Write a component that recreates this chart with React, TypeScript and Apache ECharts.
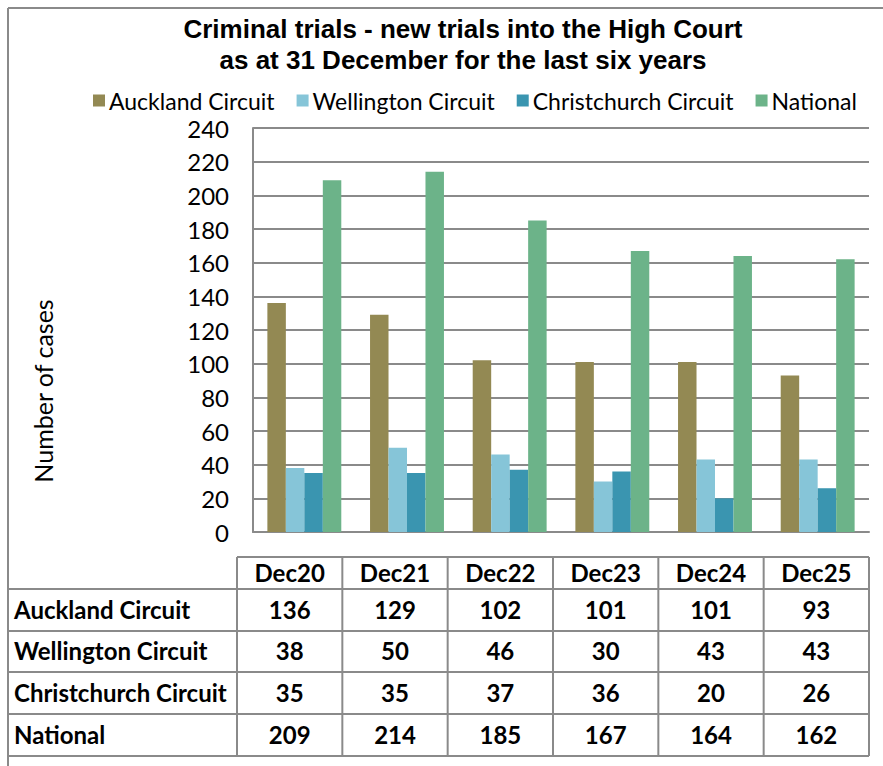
import React, { useEffect, useRef } from "react";
import * as echarts from "echarts";

const categories = ["Dec20", "Dec21", "Dec22", "Dec23", "Dec24", "Dec25"];
const seriesNames = ["Auckland Circuit", "Wellington Circuit", "Christchurch Circuit", "National"];
const auckland = [136, 129, 102, 101, 101, 93];
const wellington = [38, 50, 46, 30, 43, 43];
const christchurch = [35, 35, 37, 36, 20, 26];
const national = [209, 214, 185, 167, 164, 162];
const colors = ["#938953", "#86C5D8", "#3A95B0", "#6CB389"];
const yTicks = { min: 0, max: 240, interval: 20 };

const W = 883;
const H = 766;
const LINE = "#8a8a8a";
const FONT = "Lato";

export default function App() {
  const ref = useRef<HTMLDivElement>(null);
  useEffect(() => {
    if (!ref.current) return;
    const chart = echarts.init(ref.current, null, { renderer: "svg" });
    const values = [auckland, wellington, christchurch, national];

    const tLeft = 237;
    const tRight = 869;
    const colW = (tRight - tLeft) / categories.length;
    const rowYs = [557, 589, 631, 672, 714, 756];
    const graphics: any[] = [];
    const line = (x1: number, y1: number, x2: number, y2: number) => ({
      type: "line",
      shape: { x1, y1, x2, y2 },
      style: { stroke: LINE, lineWidth: 2 },
      silent: true,
    });
    graphics.push(line(8, 8, W, 8));
    graphics.push(line(8, 8, 8, H));
    graphics.push(line(tLeft, rowYs[0], tRight, rowYs[0]));
    for (let i = 1; i < rowYs.length; i++) graphics.push(line(8, rowYs[i], tRight, rowYs[i]));
    for (let c = 0; c <= categories.length; c++) {
      const x = tLeft + c * colW;
      graphics.push(line(x, rowYs[0], x, rowYs[rowYs.length - 1]));
    }
    const cellFont = `bold 24px ${FONT}`;
    categories.forEach((cat, c) => {
      graphics.push({
        type: "text",
        x: tLeft + (c + 0.5) * colW,
        y: (rowYs[0] + rowYs[1]) / 2 - 1,
        style: { text: cat, font: cellFont, fill: "#000", align: "center", verticalAlign: "middle" },
      });
    });
    seriesNames.forEach((name, r) => {
      const yc = (rowYs[r + 1] + rowYs[r + 2]) / 2 - 1;
      graphics.push({
        type: "text",
        x: 14,
        y: yc,
        style: { text: name, font: cellFont, fill: "#000", align: "left", verticalAlign: "middle" },
      });
      values[r].forEach((v, c) => {
        graphics.push({
          type: "text",
          x: tLeft + (c + 0.5) * colW,
          y: yc,
          style: { text: String(v), font: cellFont, fill: "#000", align: "center", verticalAlign: "middle" },
        });
      });
    });
    const titleFont = "bold 26px 'Liberation Sans'";
    graphics.push({
      type: "text",
      x: 463,
      y: 29,
      style: {
        text: "Criminal trials - new trials into the High Court",
        font: titleFont,
        fill: "#000",
        align: "center",
        verticalAlign: "middle",
      },
    });
    graphics.push({
      type: "text",
      x: 463,
      y: 60,
      style: {
        text: "as at 31 December for the last six years",
        font: titleFont,
        fill: "#000",
        align: "center",
        verticalAlign: "middle",
      },
    });
    graphics.push({
      type: "text",
      x: 43,
      y: 391,
      rotation: Math.PI / 2,
      style: {
        text: "Number of cases",
        font: `25px ${FONT}`,
        fill: "#000",
        align: "center",
        verticalAlign: "middle",
      },
    });

    chart.setOption({
      animation: false,
      color: colors,
      textStyle: { fontFamily: FONT },
      legend: {
        data: seriesNames,
        left: 88,
        top: 84,
        icon: "rect",
        itemWidth: 12,
        itemHeight: 12,
        itemGap: 22,
        textStyle: { fontSize: 23, color: "#000", fontFamily: FONT, padding: [0, 0, 0, -1] },
      },
      grid: { left: 253, top: 128, right: W - 869, bottom: H - 532, containLabel: false },
      xAxis: {
        type: "category",
        data: categories,
        axisLabel: { show: false },
        axisTick: { show: false },
        axisLine: { show: true, lineStyle: { color: LINE, width: 2 } },
      },
      yAxis: {
        type: "value",
        min: yTicks.min,
        max: yTicks.max,
        interval: yTicks.interval,
        axisLine: { show: true, lineStyle: { color: LINE, width: 2 } },
        axisTick: { show: false },
        axisLabel: { fontSize: 24, color: "#000", fontFamily: FONT, margin: 24 },
        splitLine: { show: true, lineStyle: { color: LINE, width: 2 } },
      },
      series: seriesNames.map((name, i) => ({
        name,
        type: "bar",
        data: values[i],
        barGap: "0%",
        barCategoryGap: "28%",
        itemStyle: { color: colors[i] },
      })),
      graphic: graphics,
    });
    return () => chart.dispose();
  }, []);
  return (
    <div
      ref={ref}
      style={{ position: "fixed", left: 0, top: 0, width: W, height: H, background: "#fff" }}
    />
  );
}
